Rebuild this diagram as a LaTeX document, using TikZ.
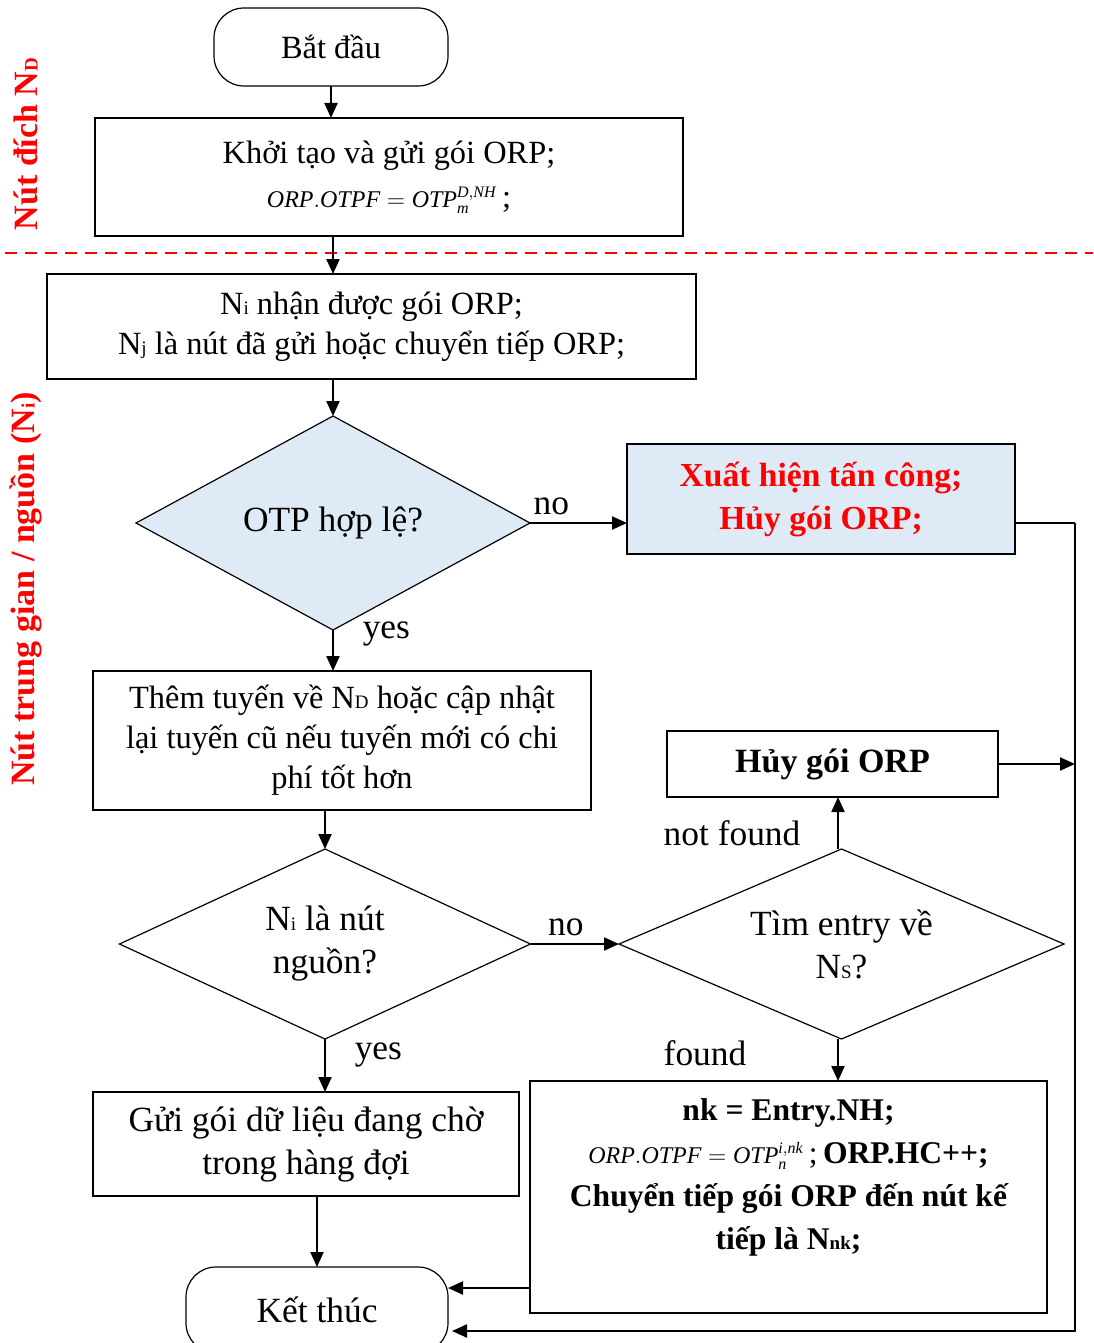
\documentclass[tikz,border=0pt]{standalone}
\usepackage{fontspec}
\setmainfont{Liberation Serif}
\usetikzlibrary{shapes.geometric,arrows.meta}

\definecolor{boxblue}{HTML}{DEEAF6}
\newcommand{\lsub}[1]{{\fontsize{9.5}{9.5}\selectfont #1}}
\newcommand{\otpf}[3]{{\fontsize{12}{13}\selectfont$\mathit{ORP.OTPF}=\mathit{OTP}_{\mathit{#1}}^{\mathit{#2,#3}}$}}

\begin{document}
\begin{tikzpicture}[x=0.5pt,y=-0.5pt,
    every node/.style={font=\fontsize{16.2}{20}\selectfont},
    big/.style={font=\fontsize{17.7}{21.5}\selectfont},
    box/.style={draw,line width=0.6pt,inner sep=0pt,outer sep=0pt,align=center},
    term/.style={box,rounded corners=15pt},
    decision/.style={box,diamond,aspect=2,big},
    flow/.style={-{Triangle[length=7.5pt,width=6.5pt]},line width=1.1pt},
    thin line/.style={line width=0.6pt},
    side/.style={rotate=90,text=red,font=\fontsize{17}{20}\selectfont\bfseries}]
    \useasboundingbox (0,0) rectangle (1093,1343);

    % destination node part
    \node [term,minimum width=117pt,minimum height=39pt] (start) at (331,47) {Bắt đầu};
    \node [box,minimum width=294pt,minimum height=59pt] (init) at (389,177)
        {Khởi tạo và gửi gói ORP;\\[2pt] \otpf{m}{D}{NH}\,;};

    \draw [red,dashed,dash pattern=on 6pt off 4pt,line width=0.8pt] (5,253) -- (1093,253);

    % intermediate / source node part
    \node [box,minimum width=324.5pt,minimum height=52.5pt] (recv) at (371.5,326.5)
        {N\lsub{i} nhận được gói ORP;\\N\lsub{j} là nút đã gửi hoặc chuyển tiếp ORP;};
    \node [decision,fill=boxblue,minimum width=197pt,minimum height=107pt] (otp) at (333,523) {OTP hợp lệ?};
    \node [box,fill=boxblue,minimum width=194pt,minimum height=55pt,text=red,font=\fontsize{16.8}{21.5}\selectfont\bfseries] (attack) at (821,499)
        {Xuất hiện tấn công;\\Hủy gói ORP;};
    \node [box,minimum width=249pt,minimum height=69.5pt] (route) at (342,740.5)
        {Thêm tuyến về N\lsub{D} hoặc cập nhật\\lại tuyến cũ nếu tuyến mới có chi\\phí tốt hơn};
    \node [decision,minimum width=205.5pt,minimum height=95pt] (src) at (325,944)
        {N\lsub{i} là nút\\nguồn?};
    \node [decision,minimum width=222.5pt,minimum height=95pt] (find) at (841.5,944)
        {Tìm entry về\\N\lsub{S}?};
    \node [box,minimum width=165.5pt,minimum height=33pt,font=\fontsize{17}{20}\selectfont\bfseries] (drop) at (832.5,764) {Hủy gói ORP};
    \node [box,minimum width=258.5pt,minimum height=116pt] (fwd) at (788.5,1197) {};
    \node [align=center,font=\fontsize{15.8}{21.5}\selectfont\bfseries] (fwdtxt) at (788.5,1177)
        {nk = Entry.NH;\\\mdseries\otpf{n}{i}{nk}\,;\,\bfseries ORP.HC++;\\Chuyển tiếp gói ORP đến nút kế\\tiếp là N\lsub{nk};};
    \node [box,big,minimum width=213pt,minimum height=52pt] (send) at (306,1144)
        {Gửi gói dữ liệu đang chờ\\trong hàng đợi};
    \node [term,big,minimum width=131pt,minimum height=43pt] (end) at (317,1310) {Kết thúc};

    % side labels
    \node [side] (dlab) at (26,144) {Nút đích N\lsub{D}};
    \node [side] (ilab) at (26,589) {Nút trung gian / nguồn (N\lsub{i})};

    % connectors
    \draw [flow] (start) -- (start |- init.north);
    \draw [flow] (init.south -| 333,0) -- (recv.north -| 333,0);
    \draw [flow] (recv.south -| otp.north) -- (otp.north);
    \draw [flow] (otp.east) -- (otp.east -| attack.west) node [above,pos=.22,big] (no1) {no};
    \draw [flow] (otp.south) -- (otp.south |- route.north) node [right,pos=.1,xshift=11pt,big] (yes1) {yes};
    \draw [flow] (src.north |- route.south) -- (src.north);
    \draw [flow] (src.east) -- (find.west) node [above,pos=.4,big] (no2) {no};
    \draw [flow] (src.south) -- (src.south |- send.north) node [right,pos=.3,xshift=11pt,big] (yes2) {yes};
    \draw [flow] (send.south -| end.north) -- (end.north);
    \draw [flow] (find.north -| 838,0) -- (drop.south -| 838,0);
    \draw [flow] (find.south -| 838,0) -- (fwd.north -| 838,0);
    \node [big] (nf) at (732,833) {not found};
    \node [big] (fd) at (705,1053) {found};

    \coordinate (rt) at (1075,523);
    \coordinate (endin) at (452,1331);
    \coordinate (fwdout) at (530,1288);
    \draw [thin line] (rt -| attack.east) -- (rt);
    \draw [flow] (rt) -- (rt |- endin) -- (endin);
    \draw [flow] (drop.east) -- (drop.east -| rt);
    \draw [flow] (fwdout) -- (fwdout -| end.east);
\end{tikzpicture}
\end{document}
